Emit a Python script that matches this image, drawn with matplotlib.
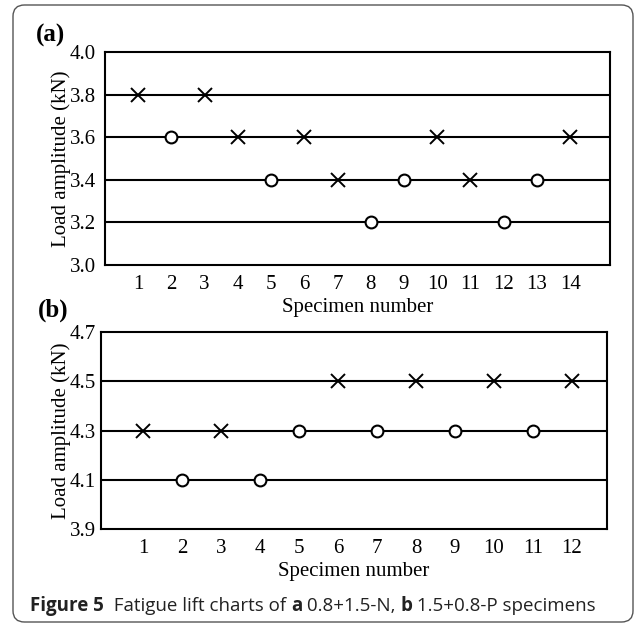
import matplotlib
matplotlib.use('Agg')
import matplotlib.pyplot as plt
from matplotlib.patches import FancyBboxPatch

# panel (a): 0.8+1.5-N
spec_a = [1, 2, 3, 4, 5, 6, 7, 8, 9, 10, 11, 12, 13, 14]
load_a = [3.8, 3.6, 3.8, 3.6, 3.4, 3.6, 3.4, 3.2, 3.4, 3.6, 3.4, 3.2, 3.4, 3.6]
fail_a = [1, 0, 1, 1, 0, 1, 1, 0, 0, 1, 1, 0, 0, 1]   # 1 = x (failed), 0 = o (run-out)

# panel (b): 1.5+0.8-P
spec_b = [1, 2, 3, 4, 5, 6, 7, 8, 9, 10, 11, 12]
load_b = [4.3, 4.1, 4.3, 4.1, 4.3, 4.5, 4.3, 4.5, 4.3, 4.5, 4.3, 4.5]
fail_b = [1, 0, 1, 0, 0, 1, 0, 1, 0, 1, 0, 1]

yticks_a = [3.0, 3.2, 3.4, 3.6, 3.8, 4.0]
yticks_b = [3.9, 4.1, 4.3, 4.5, 4.7]

plt.rcParams['font.family'] = ['Liberation Serif', 'DejaVu Serif']

W, H = 637, 627
fig = plt.figure(figsize=(W / 100, H / 100), dpi=100)

# rounded frame around the whole figure
frame = FancyBboxPatch((13 / W, 5 / H), 620 / W, 617 / H,
                       boxstyle='round,pad=0,rounding_size=0.018',
                       transform=fig.transFigure, fill=False,
                       edgecolor='#555555', linewidth=1.0)
fig.patches.append(frame)


def panel(rect, spec, load, fail, yticks, xlim, ypad):
    ax = fig.add_axes(rect)
    for y in yticks[1:-1]:
        ax.axhline(y, color='black', linewidth=1.5, zorder=1)
    xs = [s for s, f in zip(spec, fail) if f]
    ys = [v for v, f in zip(load, fail) if f]
    xo = [s for s, f in zip(spec, fail) if not f]
    yo = [v for v, f in zip(load, fail) if not f]
    ax.plot(xs, ys, 'x', color='black', markersize=10, markeredgewidth=1.4, zorder=3)
    ax.plot(xo, yo, 'o', markerfacecolor='white', markeredgecolor='black',
            markersize=8.5, markeredgewidth=1.5, zorder=3)
    ax.set_xlim(*xlim)
    ax.set_ylim(yticks[0], yticks[-1])
    ax.set_xticks(spec)
    ax.set_yticks(yticks)
    ax.set_yticklabels(['%.1f' % v for v in yticks])
    ax.tick_params(length=0, labelsize=15)
    ax.tick_params(axis='x', pad=7)
    ax.tick_params(axis='y', pad=ypad)
    for s in ax.spines.values():
        s.set_linewidth(1.5)
    ax.set_xlabel('Specimen number', fontsize=15, labelpad=3)
    ax.set_ylabel('Load amplitude (kN)', fontsize=15, labelpad=-1)
    return ax


# axes rectangles in pixels -> figure fractions
ax_a = panel([105 / W, 1 - 265 / H, 505 / W, 213 / H],
             spec_a, load_a, fail_a, yticks_a, (0.0, 15.2), 6.5)
ax_b = panel([101 / W, 1 - 529 / H, 506 / W, 197 / H],
             spec_b, load_b, fail_b, yticks_b, (-0.08, 12.9), 3.5)

fig.text(36 / W, 1 - 35 / H, '(a)', fontsize=18, fontweight='bold', va='center')
fig.text(38 / W, 1 - 310 / H, '(b)', fontsize=18, fontweight='bold', va='center')

# caption
cap_y = 1 - 606 / H
cap = [('Figure 5', 'bold'), ('  Fatigue lift charts of ', 'normal'), ('a', 'bold'),
       (' 0.8+1.5-N, ', 'normal'), ('b', 'bold'), (' 1.5+0.8-P specimens', 'normal')]
x = 30 / W
renderer = fig.canvas.get_renderer()
for txt, wt in cap:
    t = fig.text(x, cap_y, txt, fontsize=13.5, fontweight=wt, va='center',
                 color='#222222', family=['Open Sans', 'DejaVu Sans'])
    bb = t.get_window_extent(renderer=renderer)
    x += bb.width / W

fig.savefig('out.png', dpi=100)
